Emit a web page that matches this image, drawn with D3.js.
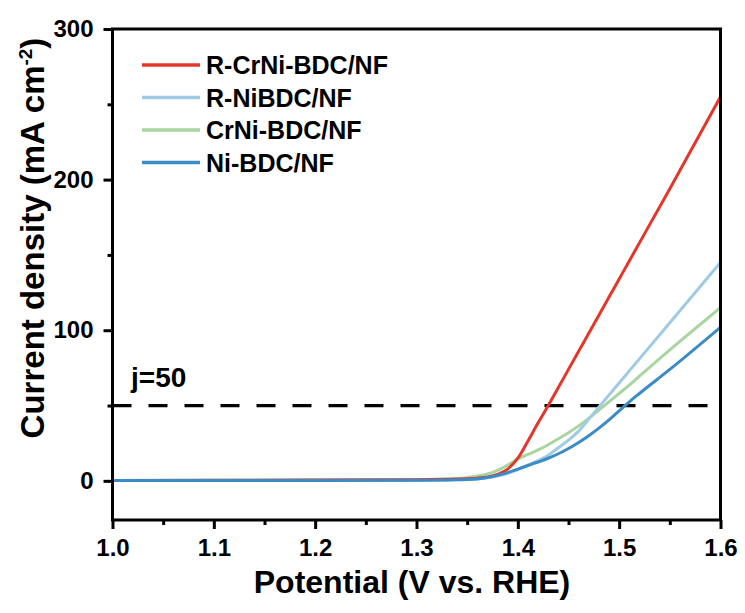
<!DOCTYPE html>
<html>
<head>
<meta charset="utf-8">
<script src="https://cdn.jsdelivr.net/npm/d3@7"></script>
<style>
  html, body { margin: 0; padding: 0; background: #fff; }
  svg { display: block; font-family: "Liberation Sans", Arial, sans-serif; font-weight: bold; }
</style>
</head>
<body>
<svg id="chart" width="745" height="613"></svg>
<script>
// Polarization (LSV) curves: current density vs. potential
const potential = [1.00, 1.10, 1.20, 1.30, 1.34, 1.35, 1.36, 1.37, 1.38, 1.39, 1.40, 1.41, 1.42, 1.43, 1.44, 1.45, 1.46, 1.47, 1.48, 1.49, 1.50, 1.51, 1.52, 1.55, 1.60];

const rCrNiBDC = [0.3, 0.4, 0.5, 0.8, 1.2, 1.4, 1.8, 2.6, 4.3, 7.8, 15.0, 26.5, 38.5, 50.0, 62.0, 74.0, 86.0, 98.0, 110.0, 122.0, 134.0, 146.0, 158.0, 194.0, 255.0];
const rNiBDC   = [0.2, 0.3, 0.4, 0.5, 0.8, 1.0, 1.4, 2.0, 3.2, 5.0, 7.5, 10.5, 13.5, 17.0, 22.0, 27.0, 33.0, 41.0, 49.0, 57.0, 65.0, 73.0, 81.0, 105.0, 145.0];
const crNiBDC  = [0.3, 0.4, 0.5, 0.8, 1.5, 2.2, 3.2, 4.6, 7.0, 10.5, 14.5, 17.5, 20.5, 24.0, 28.0, 32.0, 36.5, 41.5, 47.0, 52.5, 58.0, 63.5, 69.5, 87.0, 115.0];
const niBDC    = [0.2, 0.3, 0.3, 0.4, 0.7, 0.9, 1.3, 2.2, 3.6, 5.5, 7.8, 10.2, 12.5, 15.0, 18.0, 21.5, 25.5, 30.0, 35.0, 40.5, 46.5, 52.5, 58.0, 74.0, 102.0];

const seriesNames  = ["R-CrNi-BDC/NF", "R-NiBDC/NF", "CrNi-BDC/NF", "Ni-BDC/NF"];
const seriesValues = [rCrNiBDC, rNiBDC, crNiBDC, niBDC];
const seriesColors = ["#e5362b", "#9fcbe4", "#a9d6a0", "#3a8bc6"];
const drawOrder    = [2, 1, 0, 3];

const xTicks = [1.0, 1.1, 1.2, 1.3, 1.4, 1.5, 1.6];
const xMinor = [1.05, 1.15, 1.25, 1.35, 1.45, 1.55];
const yTicks = [0, 100, 200, 300];
const yMinor = [50, 150, 250];
const refLevel = 50;

const svg = d3.select("#chart");
const plotLeft = 112.5, plotRight = 720.5, plotTop = 29, plotBottom = 520;

const x = d3.scaleLinear().domain([1.0, 1.6]).range([plotLeft, plotRight]);
const y = d3.scaleLinear().domain([-26, 300]).range([plotBottom, plotTop]);

svg.append("defs").append("clipPath").attr("id", "plotClip")
  .append("rect").attr("x", plotLeft).attr("y", plotTop)
  .attr("width", plotRight - plotLeft).attr("height", plotBottom - plotTop);

// Reference dashed line at j = 50
svg.append("line")
  .attr("x1", plotLeft).attr("x2", plotRight - 6)
  .attr("y1", y(refLevel)).attr("y2", y(refLevel))
  .attr("stroke", "#000").attr("stroke-width", 3.2)
  .attr("stroke-dasharray", "19,17");

svg.append("text")
  .attr("x", 131).attr("y", 387)
  .attr("font-size", 28).attr("fill", "#000")
  .text("j=50");

// Curves
const line = d3.line()
  .x((d, i) => x(potential[i]))
  .y(d => y(d))
  .curve(d3.curveMonotoneX);

const curves = svg.append("g").attr("clip-path", "url(#plotClip)");
drawOrder.forEach(k => {
  curves.append("path")
    .datum(seriesValues[k])
    .attr("d", line)
    .attr("fill", "none")
    .attr("stroke", seriesColors[k])
    .attr("stroke-width", 3)
    .attr("stroke-linejoin", "round");
});

// Axes
const xAxis = svg.append("g").attr("transform", `translate(0,${plotBottom})`)
  .call(d3.axisBottom(x).tickValues(xTicks).tickFormat(d3.format(".1f")).tickSize(9).tickSizeOuter(0).tickPadding(10));
const xAxisMinor = svg.append("g").attr("transform", `translate(0,${plotBottom})`)
  .call(d3.axisBottom(x).tickValues(xMinor).tickFormat("").tickSize(5).tickSizeOuter(0));
const yAxis = svg.append("g").attr("transform", `translate(${plotLeft},0)`)
  .call(d3.axisLeft(y).tickValues(yTicks).tickSize(9).tickSizeOuter(0).tickPadding(10));
const yAxisMinor = svg.append("g").attr("transform", `translate(${plotLeft},0)`)
  .call(d3.axisLeft(y).tickValues(yMinor).tickFormat("").tickSize(5).tickSizeOuter(0));

[xAxis, xAxisMinor, yAxis, yAxisMinor].forEach(g => {
  g.select(".domain").remove();
  g.selectAll(".tick line").attr("stroke", "#000").attr("stroke-width", 3);
  g.selectAll(".tick text")
    .attr("font-family", "'Liberation Sans', Arial, sans-serif")
    .attr("font-weight", "bold")
    .attr("font-size", 24)
    .attr("fill", "#000");
});

// Frame
svg.append("rect")
  .attr("x", plotLeft).attr("y", plotTop)
  .attr("width", plotRight - plotLeft).attr("height", plotBottom - plotTop)
  .attr("fill", "none").attr("stroke", "#000").attr("stroke-width", 3);

// Axis titles
svg.append("text")
  .attr("x", 412).attr("y", 593)
  .attr("text-anchor", "middle").attr("font-size", 32).attr("fill", "#000")
  .text("Potential (V vs. RHE)");

const yTitle = svg.append("text")
  .attr("transform", "translate(44,238) rotate(-90)")
  .attr("text-anchor", "middle").attr("font-size", 33).attr("fill", "#000");
yTitle.append("tspan").text("Current density (mA cm");
yTitle.append("tspan").attr("font-size", 19).attr("dy", -12).text("-2");
yTitle.append("tspan").attr("dy", 12).text(")");

// Legend
const legend = svg.append("g");
seriesNames.forEach((name, i) => {
  const ly = 65 + i * 32.5;
  legend.append("line")
    .attr("x1", 142).attr("x2", 200).attr("y1", ly).attr("y2", ly)
    .attr("stroke", seriesColors[i]).attr("stroke-width", 3.5);
  legend.append("text")
    .attr("x", 206).attr("y", ly + 9)
    .attr("font-size", 25).attr("fill", "#000")
    .text(name);
});
</script>
</body>
</html>
